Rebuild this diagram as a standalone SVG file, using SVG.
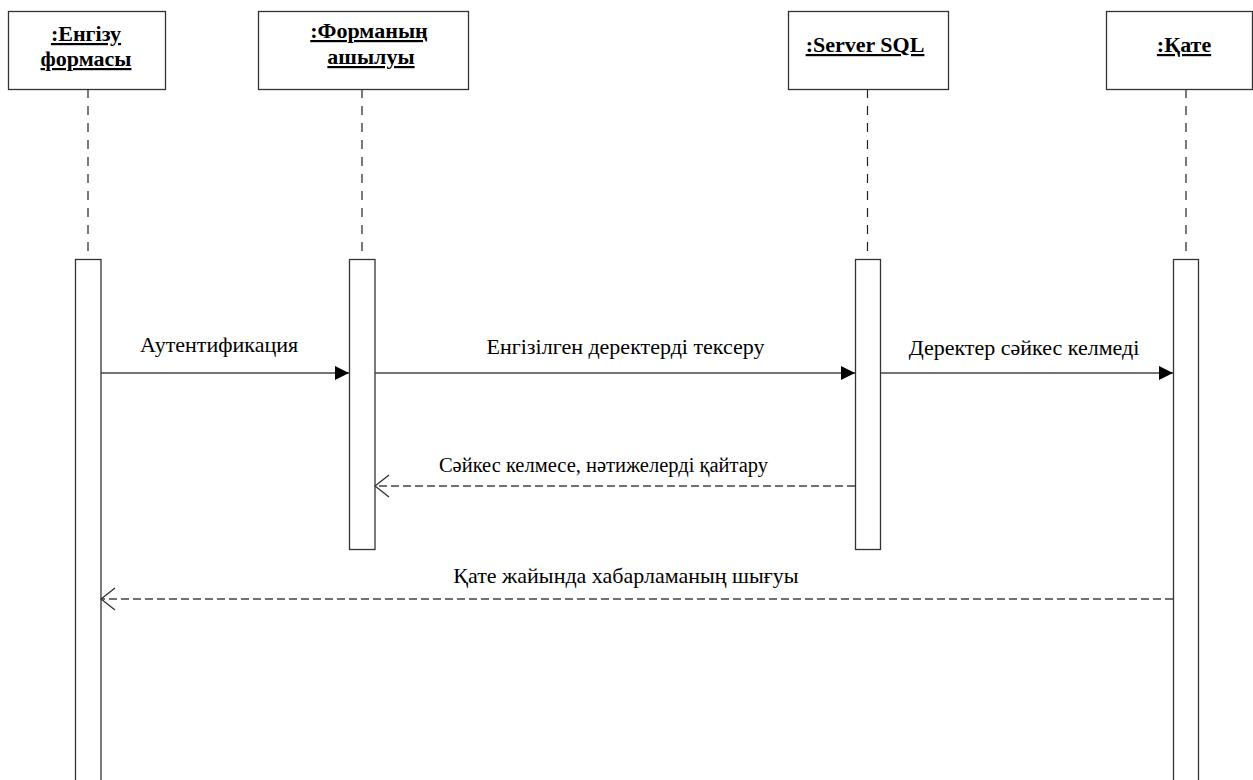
<svg xmlns="http://www.w3.org/2000/svg" width="1253" height="780" viewBox="0 0 1253 780">
<defs>
<style>
.box{fill:#fff;stroke:#333;stroke-width:1.3}
.bar{fill:#fff;stroke:#333;stroke-width:1.3}
.life{stroke:#222;stroke-width:1.2;stroke-dasharray:9 8;fill:none}
.title{font-family:'Liberation Serif',Tinos,'Times New Roman','DejaVu Serif',serif;font-weight:bold;font-size:22px;text-decoration:underline;fill:#000;text-anchor:middle}
.msg{font-family:'Liberation Serif',Tinos,'Times New Roman','DejaVu Serif',serif;font-size:22px;fill:#000;text-anchor:middle}
.sync{stroke:#444;stroke-width:1.5;fill:none}
.ret{stroke:#444;stroke-width:1.3;stroke-dasharray:8 4;fill:none}
</style>
<marker id="filled" viewBox="0 0 14 14" refX="14" refY="7" markerWidth="14" markerHeight="14" markerUnits="userSpaceOnUse" orient="auto">
<path d="M0,0 L14,7 L0,14 Z" fill="#000"/>
</marker>
<marker id="open" viewBox="0 0 16 24" refX="15" refY="12" markerWidth="16" markerHeight="24" markerUnits="userSpaceOnUse" orient="auto">
<path d="M1,1 L15,12 L1,23" fill="none" stroke="#333" stroke-width="1.4"/>
</marker>
</defs>
<rect width="1253" height="780" fill="#fff"/>
<g id="lifelines">
<line class="life" x1="88" y1="89" x2="88" y2="259"/>
<line class="life" x1="362" y1="89" x2="362" y2="259"/>
<line class="life" x1="867.5" y1="89" x2="867.5" y2="259"/>
<line class="life" x1="1186" y1="89" x2="1186" y2="259"/>
</g>
<g id="node-engizu">
<rect class="box" x="8.5" y="11.5" width="157" height="78"/>
<text class="title" x="86" y="41">:Енгізу</text>
<text class="title" x="86" y="66">формасы</text>
<rect class="bar" x="75.5" y="259.5" width="25.5" height="525"/>
</g>
<g id="node-formanyn">
<rect class="box" x="258.5" y="11.5" width="210" height="78"/>
<text class="title" x="369" y="38">:Форманың</text>
<text class="title" x="371" y="64">ашылуы</text>
<rect class="bar" x="349.5" y="259.5" width="25.5" height="290"/>
</g>
<g id="node-server">
<rect class="box" x="788.5" y="11.5" width="160" height="78"/>
<text class="title" x="865" y="52">:Server SQL</text>
<rect class="bar" x="855.5" y="259.5" width="25" height="290"/>
</g>
<g id="node-qate">
<rect class="box" x="1106.5" y="11.5" width="146" height="78"/>
<text class="title" x="1184" y="52">:Қате</text>
<rect class="bar" x="1173.5" y="259.5" width="25" height="525"/>
</g>
<g id="connectors">
<line class="sync" x1="101" y1="373" x2="349" y2="373" marker-end="url(#filled)"/>
<line class="sync" x1="375" y1="373" x2="855" y2="373" marker-end="url(#filled)"/>
<line class="sync" x1="881" y1="373" x2="1173" y2="373" marker-end="url(#filled)"/>
<line class="ret" x1="855" y1="486" x2="375" y2="486" marker-end="url(#open)"/>
<line class="ret" x1="1173" y1="599" x2="101" y2="599" marker-end="url(#open)"/>
</g>
<g id="labels">
<text class="msg" x="219" y="352">Аутентификация</text>
<text class="msg" x="625.5" y="354">Енгізілген деректерді тексеру</text>
<text class="msg" x="1024" y="355">Деректер сәйкес келмеді</text>
<text class="msg" x="603.5" y="472" style="font-size:20.5px">Сәйкес келмесе, нәтижелерді қайтару</text>
<text class="msg" x="626" y="583">Қате жайында хабарламаның шығуы</text>
</g>
</svg>
